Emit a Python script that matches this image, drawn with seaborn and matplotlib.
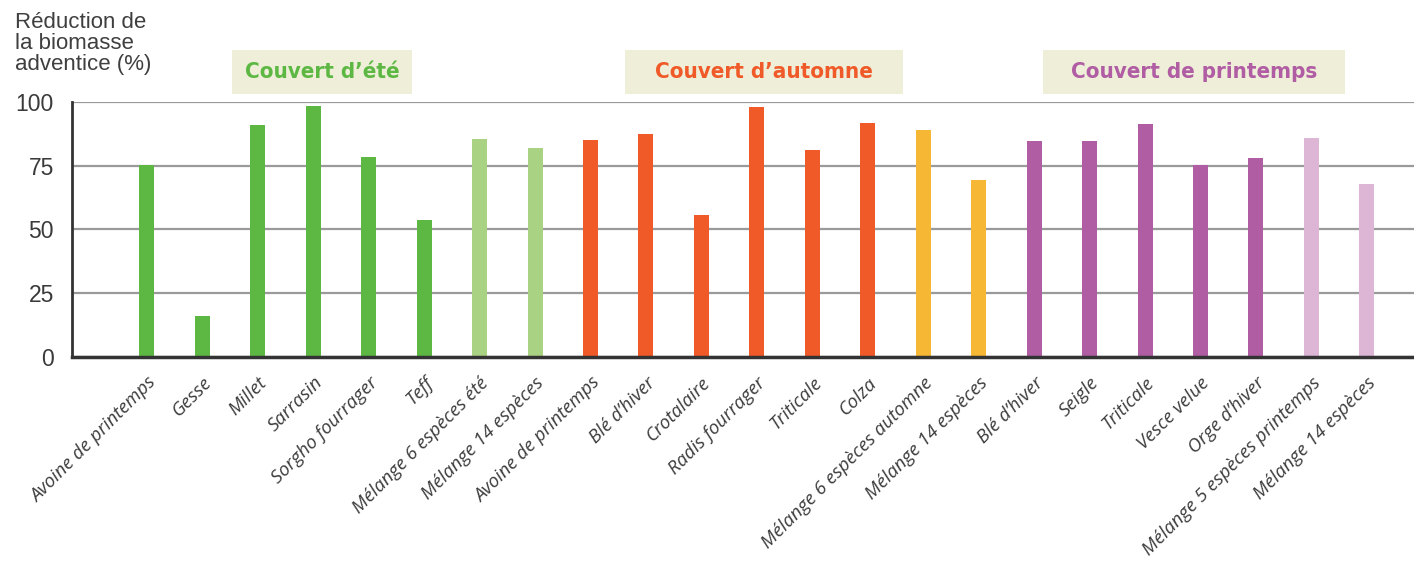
import pandas as pd
import matplotlib
matplotlib.use('Agg')
import matplotlib.pyplot as plt
from matplotlib.patches import Rectangle
import seaborn as sns

# --- data ---
plantes = ["Avoine de printemps", "Gesse", "Millet", "Sarrasin", "Sorgho fourrager", "Teff",
           "Mélange 6 espèces été", "Mélange 14 espèces",
           "Avoine de printemps", "Blé d’hiver", "Crotalaire", "Radis fourrager", "Triticale", "Colza",
           "Mélange 6 espèces automne", "Mélange 14 espèces",
           "Blé d’hiver", "Seigle", "Triticale", "Vesce velue", "Orge d’hiver",
           "Mélange 5 espèces printemps", "Mélange 14 espèces"]
reduction = [75.2, 16.2, 91.0, 98.3, 78.5, 53.8, 85.6, 81.9,
             85.0, 87.5, 55.7, 98.0, 81.1, 91.8, 89.0, 69.6,
             84.6, 84.6, 91.4, 75.1, 78.2, 85.7, 67.8]
saison = ["été"] * 6 + ["été mélange"] * 2 + ["automne"] * 6 + ["automne mélange"] * 2 \
    + ["printemps"] * 5 + ["printemps mélange"] * 2
groupes = ["Couvert d’été", "Couvert d’automne", "Couvert de printemps"]

couleurs = {"été": "#5db843", "été mélange": "#aad283",
            "automne": "#f05a28", "automne mélange": "#f6b735",
            "printemps": "#b05da3", "printemps mélange": "#ddb5d5"}
couleurs_groupes = ["#5db843", "#f05a28", "#b05da3"]

df = pd.DataFrame({"pos": [str(i) for i in range(len(plantes))],
                   "reduction": reduction, "saison": saison})

fig = plt.figure(figsize=(14.14, 5.63), dpi=100)
ax = fig.add_axes([72 / 1414, 206 / 563, 1 - 72 / 1414, 255 / 563])

sns.barplot(data=df, x="pos", y="reduction", hue="pos",
            palette=[couleurs[s] for s in saison], legend=False,
            width=0.27, saturation=1, ax=ax)

ax.set_ylim(0, 100)
ax.set_xlim(-1.35, 22.85)
ax.set_yticks([0, 25, 50, 75, 100])
ax.set_xlabel("")
ax.set_ylabel("")
ax.set_axisbelow(True)
ax.yaxis.grid(True, color="#9a9a9a", linewidth=1.6)
ax.xaxis.grid(False)
for s in ["top", "right"]:
    ax.spines[s].set_visible(False)
ax.spines["left"].set_color("#333333")
ax.spines["left"].set_linewidth(2)
ax.spines["bottom"].set_color("#333333")
ax.spines["bottom"].set_linewidth(2.5)
ax.tick_params(axis="y", length=0, pad=13, labelsize=16.5, labelcolor="#3a3a3a")
ax.tick_params(axis="x", length=0, pad=12)
ax.set_xticks(range(len(plantes)))
ax.set_xticklabels(plantes, rotation=45, ha="right", rotation_mode="anchor",
                   fontsize=13.5, fontstyle="italic", family=["Open Sans", "DejaVu Sans"],
                   color="#3c3c3c")
for lab in ax.get_yticklabels():
    lab.set_family(["Liberation Sans", "DejaVu Sans"])

# titre de l'axe
fig.text(15 / 1414, 1 - 12 / 563, "Réduction de\nla biomasse\nadventice (%)",
         ha="left", va="top", fontsize=16, linespacing=1.0, color="#3f3f3f",
         family=["Liberation Sans", "DejaVu Sans"])

# étiquettes des groupes
boites = [(232, 412), (625, 903), (1043, 1345)]
for (x0, x1), nom, c in zip(boites, groupes, couleurs_groupes):
    fig.add_artist(Rectangle((x0 / 1414, 1 - 94 / 563), (x1 - x0) / 1414, 44 / 563,
                             transform=fig.transFigure, facecolor="#eeeed9", edgecolor="none"))
    fig.text((x0 + x1) / 2 / 1414, 1 - 72 / 563, nom, ha="center", va="center",
             fontsize=16, fontweight="bold", fontstretch="condensed", color=c,
             family=["DejaVu Sans"])

fig.savefig("out.png", dpi=100)
